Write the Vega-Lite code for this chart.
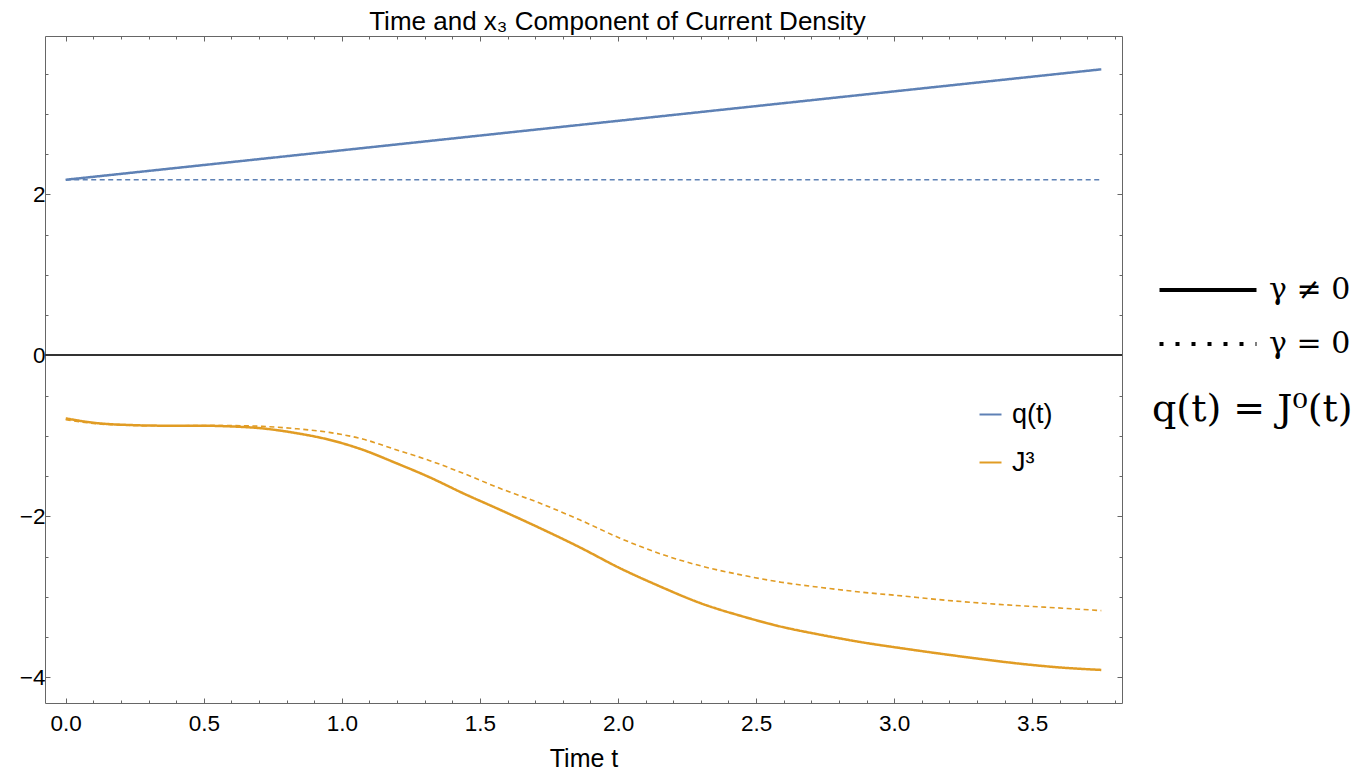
{
  "$schema": "https://vega.github.io/schema/vega-lite/v6.json",
  "width": 1077,
  "height": 667,
  "padding": {"left": 5, "top": 8, "right": 5, "bottom": 0},
  "background": "white",
  "title": {"text": "Time and x₃ Component of Current Density", "font": "Liberation Sans", "fontSize": 26, "fontWeight": "normal", "color": "black", "anchor": "middle", "dx": 34, "offset": -20, "baseline": "alphabetic"},
  "config": {"view": {"stroke": null}, "axis": {"grid": false}},
  "data": {"values": [
    {"t": 0, "v": 2.181, "s": "q(t)", "g": "γ ≠ 0"},
    {"t": 1, "v": 2.547, "s": "q(t)", "g": "γ ≠ 0"},
    {"t": 2, "v": 2.913, "s": "q(t)", "g": "γ ≠ 0"},
    {"t": 3, "v": 3.279, "s": "q(t)", "g": "γ ≠ 0"},
    {"t": 3.75, "v": 3.553, "s": "q(t)", "g": "γ ≠ 0"},
    {"t": 0, "v": 2.181, "s": "q(t)", "g": "γ = 0"},
    {"t": 3.75, "v": 2.181, "s": "q(t)", "g": "γ = 0"},
    {"t": 0, "v": -0.784, "s": "J³", "g": "γ ≠ 0"},
    {"t": 0.109, "v": -0.841, "s": "J³", "g": "γ ≠ 0"},
    {"t": 0.229, "v": -0.866, "s": "J³", "g": "γ ≠ 0"},
    {"t": 0.35, "v": -0.874, "s": "J³", "g": "γ ≠ 0"},
    {"t": 0.471, "v": -0.874, "s": "J³", "g": "γ ≠ 0"},
    {"t": 0.592, "v": -0.883, "s": "J³", "g": "γ ≠ 0"},
    {"t": 0.712, "v": -0.908, "s": "J³", "g": "γ ≠ 0"},
    {"t": 0.833, "v": -0.966, "s": "J³", "g": "γ ≠ 0"},
    {"t": 0.954, "v": -1.049, "s": "J³", "g": "γ ≠ 0"},
    {"t": 1.075, "v": -1.173, "s": "J³", "g": "γ ≠ 0"},
    {"t": 1.196, "v": -1.339, "s": "J³", "g": "γ ≠ 0"},
    {"t": 1.316, "v": -1.513, "s": "J³", "g": "γ ≠ 0"},
    {"t": 1.437, "v": -1.711, "s": "J³", "g": "γ ≠ 0"},
    {"t": 1.57, "v": -1.915, "s": "J³", "g": "γ ≠ 0"},
    {"t": 1.716, "v": -2.145, "s": "J³", "g": "γ ≠ 0"},
    {"t": 1.861, "v": -2.385, "s": "J³", "g": "γ ≠ 0"},
    {"t": 2.007, "v": -2.645, "s": "J³", "g": "γ ≠ 0"},
    {"t": 2.153, "v": -2.873, "s": "J³", "g": "γ ≠ 0"},
    {"t": 2.299, "v": -3.08, "s": "J³", "g": "γ ≠ 0"},
    {"t": 2.445, "v": -3.238, "s": "J³", "g": "γ ≠ 0"},
    {"t": 2.59, "v": -3.371, "s": "J³", "g": "γ ≠ 0"},
    {"t": 2.736, "v": -3.474, "s": "J³", "g": "γ ≠ 0"},
    {"t": 2.882, "v": -3.565, "s": "J³", "g": "γ ≠ 0"},
    {"t": 3.028, "v": -3.64, "s": "J³", "g": "γ ≠ 0"},
    {"t": 3.173, "v": -3.71, "s": "J³", "g": "γ ≠ 0"},
    {"t": 3.319, "v": -3.776, "s": "J³", "g": "γ ≠ 0"},
    {"t": 3.464, "v": -3.835, "s": "J³", "g": "γ ≠ 0"},
    {"t": 3.61, "v": -3.881, "s": "J³", "g": "γ ≠ 0"},
    {"t": 3.75, "v": -3.909, "s": "J³", "g": "γ ≠ 0"},
    {"t": 0, "v": -0.8, "s": "J³", "g": "γ = 0"},
    {"t": 0.109, "v": -0.85, "s": "J³", "g": "γ = 0"},
    {"t": 0.229, "v": -0.87, "s": "J³", "g": "γ = 0"},
    {"t": 0.35, "v": -0.876, "s": "J³", "g": "γ = 0"},
    {"t": 0.471, "v": -0.874, "s": "J³", "g": "γ = 0"},
    {"t": 0.592, "v": -0.874, "s": "J³", "g": "γ = 0"},
    {"t": 0.712, "v": -0.883, "s": "J³", "g": "γ = 0"},
    {"t": 0.833, "v": -0.912, "s": "J³", "g": "γ = 0"},
    {"t": 0.954, "v": -0.958, "s": "J³", "g": "γ = 0"},
    {"t": 1.075, "v": -1.04, "s": "J³", "g": "γ = 0"},
    {"t": 1.196, "v": -1.173, "s": "J³", "g": "γ = 0"},
    {"t": 1.316, "v": -1.306, "s": "J³", "g": "γ = 0"},
    {"t": 1.437, "v": -1.463, "s": "J³", "g": "γ = 0"},
    {"t": 1.57, "v": -1.65, "s": "J³", "g": "γ = 0"},
    {"t": 1.716, "v": -1.836, "s": "J³", "g": "γ = 0"},
    {"t": 1.861, "v": -2.044, "s": "J³", "g": "γ = 0"},
    {"t": 2.007, "v": -2.272, "s": "J³", "g": "γ = 0"},
    {"t": 2.153, "v": -2.466, "s": "J³", "g": "γ = 0"},
    {"t": 2.299, "v": -2.616, "s": "J³", "g": "γ = 0"},
    {"t": 2.445, "v": -2.728, "s": "J³", "g": "γ = 0"},
    {"t": 2.59, "v": -2.819, "s": "J³", "g": "γ = 0"},
    {"t": 2.736, "v": -2.885, "s": "J³", "g": "γ = 0"},
    {"t": 2.882, "v": -2.943, "s": "J³", "g": "γ = 0"},
    {"t": 3.028, "v": -2.989, "s": "J³", "g": "γ = 0"},
    {"t": 3.173, "v": -3.039, "s": "J³", "g": "γ = 0"},
    {"t": 3.319, "v": -3.08, "s": "J³", "g": "γ = 0"},
    {"t": 3.464, "v": -3.113, "s": "J³", "g": "γ = 0"},
    {"t": 3.61, "v": -3.142, "s": "J³", "g": "γ = 0"},
    {"t": 3.75, "v": -3.172, "s": "J³", "g": "γ = 0"}
  ]},
  "layer": [
    {
      "mark": {"type": "rule", "color": "#333333", "strokeWidth": 1},
      "encoding": {"y": {"datum": 0, "type": "quantitative", "axis": null}}
    },
    {
      "transform": [{"filter": "datum.g === 'γ ≠ 0'"}],
      "mark": {"type": "line", "strokeWidth": 2.5, "interpolate": "monotone"},
      "encoding": {
        "x": {"field": "t", "type": "quantitative",
          "scale": {"domain": [-0.075, 3.825], "nice": false, "zero": false},
          "axis": {"orient": "bottom", "title": "Time t",
            "values": [0,0.1,0.2,0.3,0.4,0.5,0.6,0.7,0.8,0.9,1,1.1,1.2,1.3,1.4,1.5,1.6,1.7,1.8,1.9,2,2.1,2.2,2.3,2.4,2.5,2.6,2.7,2.8,2.9,3,3.1,3.2,3.3,3.4,3.5,3.6,3.7,3.8],
            "labelExpr": "abs(datum.value*2 - round(datum.value*2)) < 0.001 ? format(datum.value, '.1f') : ''",
            "tickSize": {"condition": {"test": "abs(datum.value*2 - round(datum.value*2)) < 0.001", "value": -5}, "value": -3},
            "labelOverlap": false, "labelFlush": false, "labelBound": false,
            "domainColor": "#666666", "tickColor": "#666666", "labelColor": "black",
            "labelFont": "Liberation Sans", "labelFontSize": 22.5, "labelPadding": 14,
            "titleFont": "Liberation Sans", "titleFontSize": 25, "titleFontWeight": "normal", "titleColor": "black", "titlePadding": 10}},
        "y": {"field": "v", "type": "quantitative",
          "scale": {"domain": [-4.32, 3.967], "nice": false, "zero": false},
          "axis": {"orient": "left", "title": null,
            "values": [-4,-3.5,-3,-2.5,-2,-1.5,-1,-0.5,0,0.5,1,1.5,2,2.5,3,3.5],
            "labelExpr": "datum.value % 2 == 0 ? format(datum.value, 'd') : ''",
            "tickSize": {"condition": {"test": "datum.value % 2 == 0", "value": -5}, "value": -3},
            "labelOverlap": false, "labelFlush": false, "labelBound": false,
            "domainColor": "#666666", "tickColor": "#666666", "labelColor": "black",
            "labelFont": "Liberation Sans", "labelFontSize": 22.5, "labelPadding": 5,
            "minExtent": 40, "maxExtent": 40}},
        "color": {"field": "s", "type": "nominal",
          "scale": {"domain": ["q(t)", "J³"], "range": ["#5E81B5", "#E19C24"]},
          "legend": {"orient": "none", "legendX": 932, "legendY": 365, "title": null,
            "symbolType": "stroke", "symbolSize": 484, "symbolStrokeWidth": 2,
            "labelFont": "Liberation Sans", "labelFontSize": 27, "labelColor": "black",
            "labelOffset": 8, "rowPadding": 20, "padding": 0}},
        "strokeDash": {"field": "g", "type": "nominal",
          "scale": {"domain": ["γ ≠ 0", "γ = 0"], "range": [[1, 0], [4, 12]]},
          "legend": {"orient": "none", "legendX": 1107, "legendY": 239,
            "title": "q(t) = J⁰(t)", "titleOrient": "bottom", "titleAlign": "left", "titleAnchor": "start", "titleLimit": 0,
            "titleFont": "DejaVu Serif", "titleFontSize": 38, "titleFontWeight": "normal", "titleColor": "black", "titlePadding": 32,
            "symbolType": "M-4,0H4", "symbolSize": 588, "symbolStrokeWidth": 4, "symbolStrokeColor": "black", "symbolFillColor": "transparent",
            "symbolOffset": 41, "labelOffset": 46, "labelLimit": 0,
            "labelFont": "DejaVu Serif", "labelFontSize": 30, "labelColor": "black",
            "rowPadding": 24, "padding": 0}}
      }
    },
    {
      "transform": [{"filter": "datum.g === 'γ = 0'"}],
      "mark": {"type": "line", "strokeWidth": 1.6, "interpolate": "monotone", "strokeDash": [5, 3.5]},
      "encoding": {
        "x": {"field": "t", "type": "quantitative",
          "scale": {"domain": [-0.075, 3.825], "nice": false, "zero": false},
          "axis": {"orient": "top", "title": null, "labels": false,
            "values": [0,0.1,0.2,0.3,0.4,0.5,0.6,0.7,0.8,0.9,1,1.1,1.2,1.3,1.4,1.5,1.6,1.7,1.8,1.9,2,2.1,2.2,2.3,2.4,2.5,2.6,2.7,2.8,2.9,3,3.1,3.2,3.3,3.4,3.5,3.6,3.7,3.8],
            "tickSize": {"condition": {"test": "abs(datum.value*2 - round(datum.value*2)) < 0.001", "value": -5}, "value": -3},
            "domainColor": "#666666", "tickColor": "#666666", "minExtent": 0, "maxExtent": 0}},
        "y": {"field": "v", "type": "quantitative",
          "scale": {"domain": [-4.32, 3.967], "nice": false, "zero": false},
          "axis": {"orient": "right", "title": null, "labels": false,
            "values": [-4,-3.5,-3,-2.5,-2,-1.5,-1,-0.5,0,0.5,1,1.5,2,2.5,3,3.5],
            "tickSize": {"condition": {"test": "datum.value % 2 == 0", "value": -5}, "value": -3},
            "domainColor": "#666666", "tickColor": "#666666", "minExtent": 0, "maxExtent": 0}},
        "color": {"field": "s", "type": "nominal"}
      }
    }
  ],
  "resolve": {"axis": {"x": "independent", "y": "independent"}}
}
